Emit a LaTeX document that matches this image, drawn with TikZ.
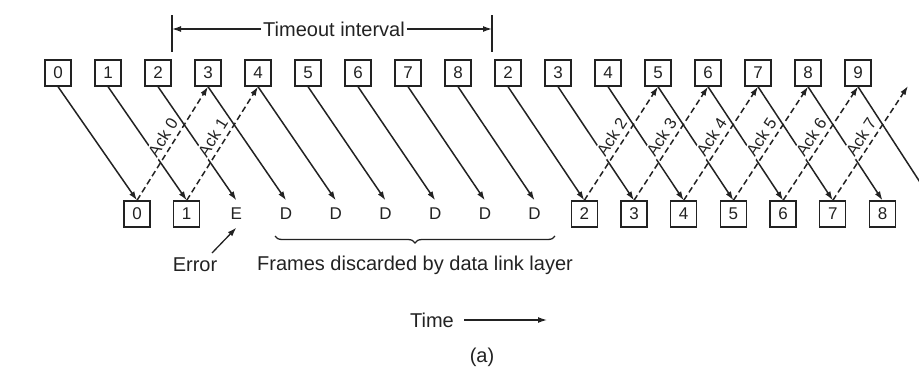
\documentclass[tikz,border=0pt]{standalone}
\usepackage{fontspec}
\setmainfont{Liberation Sans}
\usetikzlibrary{arrows.meta,decorations.pathreplacing}
\definecolor{ink}{HTML}{222222}
\begin{document}
\begin{tikzpicture}[x=1pt,y=-1pt,
  frame/.style={draw=ink, line width=1.3pt, minimum size=26pt, inner sep=0pt,
                font=\fontsize{17}{17}\selectfont, text=ink},
  slot/.style={frame, draw=none},
  tip/.style={-{Latex[length=9pt,width=6pt]}},
  data/.style={ink, line width=1.5pt, tip},
  ack/.style={ink, line width=1.5pt, dash pattern=on 6pt off 3.5pt, tip},
  acklabel/.style={midway, sloped, above=3pt, fill=white, inner sep=1.5pt,
                   font=\fontsize{16.5}{16.5}\selectfont, text=ink},
  lbl/.style={font=\fontsize{20}{20}\selectfont, text=ink, inner sep=2pt},
  thin/.style={ink, line width=1.3pt}]
\useasboundingbox (0,0) rectangle (919,367);

% sender: frames as transmitted
\foreach \lab [count=\i from 0] in {0,1,2,3,4,5,6,7,8,2,3,4,5,6,7,8,9}
  \node[frame] (t\i) at ({58+50*\i},73) {\lab};
\coordinate (t17) at ({58+50*17},86);

% receiver: accepted frames, error and discards
\node[frame] (b0) at (137,214) {0};
\node[frame] (b1) at ({137+49.7},214) {1};
\node[slot] (b2) at ({137+49.7*2},214) {E};
\foreach \j in {3,...,8}
  \node[slot] (b\j) at ({137+49.7*\j},214) {D};
\foreach \lab [count=\j from 9] in {2,3,4,5,6,7,8}
  \node[frame] (b\j) at ({137+49.7*\j},214) {\lab};
\coordinate (b16) at ({137+49.7*16},201);

% data frames
\foreach \i in {0,...,15}
  \draw[data] (t\i.south) -- (b\i.north);
\draw[data] (t16.south) -- (b16);

% acknowledgements
\draw[ack] (b0.north) -- node[acklabel] {Ack 0} (t3.south);
\draw[ack] (b1.north) -- node[acklabel] {Ack 1} (t4.south);
\draw[ack] (b9.north) -- node[acklabel] {Ack 2} (t12.south);
\draw[ack] (b10.north) -- node[acklabel] {Ack 3} (t13.south);
\draw[ack] (b11.north) -- node[acklabel] {Ack 4} (t14.south);
\draw[ack] (b12.north) -- node[acklabel] {Ack 5} (t15.south);
\draw[ack] (b13.north) -- node[acklabel] {Ack 6} (t16.south);
\draw[ack] (b14.north) -- node[acklabel] {Ack 7} (t17);

% timeout interval
\node[lbl] (tmo) at (334,29) {Timeout interval};
\coordinate (tl) at (172,29);
\coordinate (tr) at (492,29);
\draw[thin] (172,15) -- (172,52);
\draw[thin] (492,15) -- (492,52);
\draw[thin, tip] (tmo.west) -- (tl);
\draw[thin, tip] (tmo.east) -- (tr);

% error marker
\node[lbl] (err) at (195,265) {Error};
\coordinate (errtail) at (212,253);
\draw[thin, tip] (errtail) -- (b2.south);

% discarded frames
\coordinate (brl) at (275,236);
\coordinate (brr) at (555,236);
\draw[thin, decorate, decoration={brace, mirror, amplitude=7pt}] (brl) -- (brr);
\node[lbl] (disc) at (415,265) {Frames discarded by data link layer};

% time axis and caption
\node[lbl] (time) at (432,320) {Time};
\coordinate (timeend) at (547,320);
\draw[thin, tip] ([xshift=8pt]time.east) -- (timeend);
\node[lbl] (cap) at (482,357) {(a)};
\end{tikzpicture}
\end{document}
